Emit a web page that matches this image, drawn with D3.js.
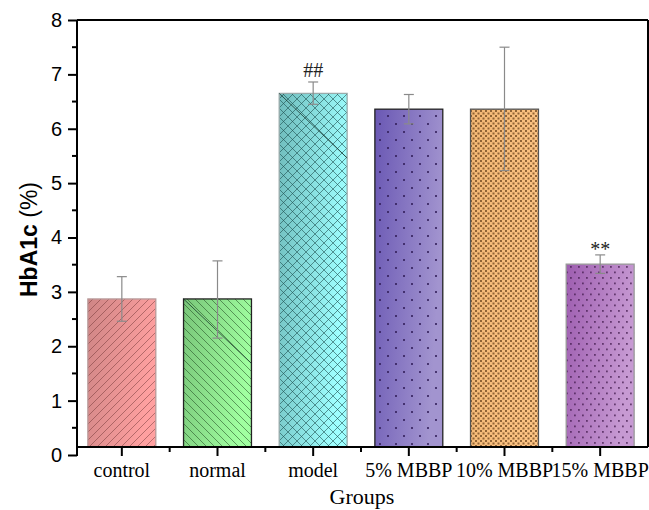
<!DOCTYPE html>
<html>
<head>
<meta charset="utf-8">
<script src="https://cdn.jsdelivr.net/npm/d3@7/dist/d3.min.js"></script>
<style>
  html, body { margin: 0; padding: 0; background: #fff; }
  svg { display: block; }
</style>
</head>
<body>
<svg id="chart" width="649" height="510"></svg>
<script>
const categories = ["control", "normal", "model", "5% MBBP", "10% MBBP", "15% MBBP"];
const values     = [2.87, 2.87, 6.65, 6.36, 6.36, 3.51];
const errUpper   = [3.28, 3.57, 6.86, 6.63, 7.50, 3.68];
const errLower   = [2.46, 2.15, 6.45, 6.09, 5.23, 3.34];
const marks      = ["", "", "##", "", "", "**"];
const yTicks     = [0, 1, 2, 3, 4, 5, 6, 7, 8];

const svg = d3.select("#chart");
const pL = 77, pR = 648, pT = 20, pB = 455;

const y = d3.scaleLinear().domain([0, 8]).range([pB, pT]);
const x = d3.scaleBand().domain(categories).range([74, 648]).paddingInner(0.29).paddingOuter(0.145);
const baseY = pB - 8;

const styles = [
  {c0: "#cf8585", c1: "#ffa0a0", stroke: "#b89a9a", pat: "diagR"},
  {c0: "#79c679", c1: "#a0ffa0", stroke: "#222", pat: "diagL"},
  {c0: "#6fbcbc", c1: "#9effff", stroke: "#9aa", pat: "cross"},
  {c0: "#6a58b4", c1: "#a294cf", stroke: "#222", pat: "dotsSparse"},
  {c0: "#f2b774", c1: "#fcc383", stroke: "#555", pat: "checker"},
  {c0: "#9e5eb0", c1: "#c79ad3", stroke: "#999", pat: "dotsDense"}
];

const defs = svg.append("defs");
styles.forEach((s, i) => {
  const g = defs.append("linearGradient").attr("id", "grad" + i)
    .attr("x1", "0").attr("y1", "0").attr("x2", "1").attr("y2", "0.3");
  g.append("stop").attr("offset", "0").attr("stop-color", s.c0);
  g.append("stop").attr("offset", "1").attr("stop-color", s.c1);
});

function pattern(id, w, h) {
  return defs.append("pattern").attr("id", id).attr("patternUnits", "userSpaceOnUse")
    .attr("width", w).attr("height", h);
}
let p;
p = pattern("diagR", 8, 8);
p.append("path").attr("d", "M-2,2 L2,-2 M0,8 L8,0 M6,10 L10,6").attr("stroke", "rgba(110,50,50,0.55)").attr("stroke-width", 0.9);
p = pattern("diagL", 8, 8);
p.append("path").attr("d", "M-2,6 L2,10 M0,0 L8,8 M6,-2 L10,2").attr("stroke", "rgba(30,70,30,0.6)").attr("stroke-width", 0.9);
p = pattern("cross", 9, 9);
p.append("path").attr("d", "M0,0 L9,9 M9,0 L0,9").attr("stroke", "rgba(30,80,80,0.6)").attr("stroke-width", 1);
p = pattern("dotsSparse", 16, 16);
p.append("rect").attr("x", 3).attr("y", 3).attr("width", 2).attr("height", 2).attr("fill", "rgba(50,30,90,0.8)");
p.append("rect").attr("x", 11).attr("y", 11).attr("width", 2).attr("height", 2).attr("fill", "rgba(50,30,90,0.8)");
p = pattern("checker", 5, 5);
p.append("rect").attr("x", 0).attr("y", 0).attr("width", 2).attr("height", 2).attr("fill", "rgba(110,70,30,0.75)");
p.append("rect").attr("x", 2.5).attr("y", 2.5).attr("width", 2).attr("height", 2).attr("fill", "rgba(110,70,30,0.75)");
p = pattern("dotsDense", 8, 11);
p.append("rect").attr("x", 2).attr("y", 2).attr("width", 1.8).attr("height", 1.8).attr("fill", "rgba(70,30,80,0.75)");
p.append("rect").attr("x", 6).attr("y", 7.5).attr("width", 1.8).attr("height", 1.8).attr("fill", "rgba(70,30,80,0.75)");

// bars
const bars = svg.append("g");
categories.forEach((c, i) => {
  const bx = x(c), bw = x.bandwidth(), by = y(values[i]), bh = baseY - by;
  bars.append("rect").attr("x", bx).attr("y", by).attr("width", bw).attr("height", bh)
    .attr("fill", "url(#grad" + i + ")");
  bars.append("rect").attr("x", bx).attr("y", by).attr("width", bw).attr("height", bh)
    .attr("fill", "url(#" + styles[i].pat + ")")
    .attr("stroke", styles[i].stroke).attr("stroke-width", 1.3);
  if (i === 1 || i === 2) {
    bars.append("line").attr("x1", bx).attr("y1", by).attr("x2", bx + bw).attr("y2", by + bw * 0.95)
      .attr("stroke", "rgba(20,50,40,0.75)").attr("stroke-width", 1);
  }
});

// error bars
const eb = svg.append("g").attr("stroke", "#8a8a8a").attr("stroke-width", 1.2);
categories.forEach((c, i) => {
  const cx = x(c) + x.bandwidth() / 2;
  eb.append("line").attr("x1", cx).attr("x2", cx).attr("y1", y(errUpper[i])).attr("y2", y(errLower[i]));
  eb.append("line").attr("x1", cx - 5).attr("x2", cx + 5).attr("y1", y(errUpper[i])).attr("y2", y(errUpper[i]));
  eb.append("line").attr("x1", cx - 5).attr("x2", cx + 5).attr("y1", y(errLower[i])).attr("y2", y(errLower[i]));
});

// significance marks
categories.forEach((c, i) => {
  if (!marks[i]) return;
  const cx = x(c) + x.bandwidth() / 2;
  svg.append("text").attr("x", cx).attr("y", marks[i] === "##" ? y(errUpper[i]) - 5 : y(errUpper[i]) + 1)
    .attr("text-anchor", "middle").attr("font-family", "Liberation Serif, Times New Roman, serif")
    .attr("font-size", 20).attr("fill", "#222").text(marks[i]);
});

// frame
svg.append("line").attr("x1", pL).attr("x2", pR).attr("y1", pT).attr("y2", pT).attr("stroke", "#000").attr("stroke-width", 2);
svg.append("line").attr("x1", pR).attr("x2", pR).attr("y1", pT).attr("y2", baseY).attr("stroke", "#000").attr("stroke-width", 2);

// y axis
const yAxis = svg.append("g").attr("transform", `translate(${pL},0)`)
  .call(d3.axisLeft(y).tickValues(yTicks).tickSize(9).tickPadding(6).tickFormat(d3.format("d")));
yAxis.select(".domain").attr("stroke-width", 2).attr("d", `M0,${pT}V${pB + 1}`);
yAxis.selectAll(".tick line").attr("stroke-width", 2);
yAxis.selectAll(".tick text").attr("font-family", "Liberation Sans, Arial, sans-serif").attr("font-size", 20).attr("fill", "#000");
const yMinor = d3.range(0.5, 8, 1);
svg.append("g").selectAll("line").data(yMinor).join("line")
  .attr("x1", pL - 5).attr("x2", pL).attr("y1", d => y(d)).attr("y2", d => y(d))
  .attr("stroke", "#000").attr("stroke-width", 2);

// x axis
const xAxis = svg.append("g").attr("transform", `translate(0,${baseY})`)
  .call(d3.axisBottom(x).tickSize(9).tickPadding(7));
xAxis.select(".domain").attr("stroke-width", 2).attr("d", `M${pL},0H${pR}`);
xAxis.selectAll(".tick line").attr("stroke-width", 2);
xAxis.selectAll(".tick text").attr("font-family", "Liberation Serif, Times New Roman, serif").attr("font-size", 20).attr("fill", "#000");
const xMinor = categories.slice(1).map(c => x(c) - x.step() * x.paddingInner() / 2);
svg.append("g").selectAll("line").data(xMinor).join("line")
  .attr("x1", d => d).attr("x2", d => d).attr("y1", baseY).attr("y2", baseY + 5)
  .attr("stroke", "#000").attr("stroke-width", 2);

// titles
const yt = svg.append("text").attr("transform", `translate(37,${(pT + pB) / 2 + 2}) rotate(-90)`)
  .attr("text-anchor", "middle").attr("font-family", "Liberation Sans, Arial, sans-serif").attr("font-size", 23).attr("fill", "#000");
yt.append("tspan").attr("font-weight", "bold").text("HbA1c");
yt.append("tspan").text(" (%)");
svg.append("text").attr("x", 362).attr("y", 504).attr("text-anchor", "middle")
  .attr("font-family", "Liberation Serif, Times New Roman, serif").attr("font-size", 22).attr("fill", "#000").text("Groups");
</script>
</body>
</html>
